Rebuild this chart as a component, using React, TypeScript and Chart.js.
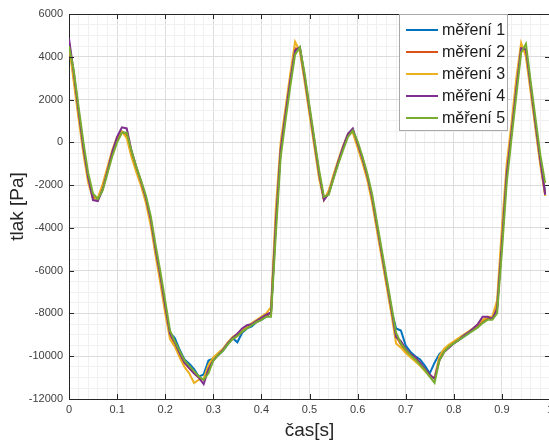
import { useEffect, useRef } from "react";
import { Chart, registerables } from "chart.js";

Chart.register(...registerables);

// Sample times [s]
const time = [
  0.0, 0.01, 0.02, 0.03, 0.04, 0.05, 0.06, 0.07, 0.08, 0.09,
  0.1, 0.11, 0.12, 0.13, 0.14, 0.15, 0.16, 0.17, 0.18, 0.19,
  0.2, 0.21, 0.22, 0.23, 0.24, 0.25, 0.26, 0.27, 0.28, 0.29,
  0.3, 0.31, 0.32, 0.33, 0.34, 0.35, 0.36, 0.37, 0.38, 0.39,
  0.4, 0.41, 0.42, 0.43, 0.44, 0.45, 0.46, 0.47, 0.48, 0.49,
  0.5, 0.51, 0.52, 0.53, 0.54, 0.55, 0.56, 0.57, 0.58, 0.59,
  0.6, 0.61, 0.62, 0.63, 0.64, 0.65, 0.66, 0.67, 0.68, 0.69,
  0.7, 0.71, 0.72, 0.73, 0.74, 0.75, 0.76, 0.77, 0.78, 0.79,
  0.8, 0.81, 0.82, 0.83, 0.84, 0.85, 0.86, 0.87, 0.88, 0.89,
  0.9, 0.91, 0.92, 0.93, 0.94, 0.95, 0.96, 0.97, 0.98, 0.99,
];

// Pressure [Pa], one array per measurement
const mereni1 = [
  4650, 3000, 1300, -350, -1700, -2600, -2650, -2100, -1300, -500,
  150, 500, 400, -550, -1250, -1900, -2650, -3650, -5050, -6300,
  -7700, -8900, -9150, -9700, -10150, -10350, -10600, -10950, -10850, -10200,
  -10100, -9950, -9750, -9450, -9150, -9350, -8900, -8700, -8600, -8400,
  -8300, -8150, -7950, -3800, -400, 1300, 2900, 4300, 4400, 3000,
  1500, 0, -1500, -2650, -2350, -1600, -900, -250, 350, 550,
  -100, -800, -1600, -2600, -3900, -5200, -6500, -7800, -8700, -8800,
  -9500, -9800, -10000, -10150, -10450, -10800, -10300, -9900, -9700, -9500,
  -9400, -9250, -9100, -8950, -8750, -8600, -8400, -8250, -8200, -7700,
  -4600, -1400, 500, 2600, 4400, 4300, 2600, 800, -900, -2350,
];

const mereni2 = [
  4700, 3100, 1400, -250, -1650, -2550, -2650, -2150, -1350, -550,
  100, 500, 350, -600, -1300, -1950, -2700, -3700, -5100, -6350,
  -7750, -9000, -9400, -9900, -10300, -10550, -10800, -11000, -11100, -10600,
  -10150, -9900, -9700, -9400, -9200, -9050, -8850, -8650, -8500, -8400,
  -8250, -8100, -7950, -3600, -300, 1300, 2900, 4400, 4350, 3000,
  1500, 0, -1500, -2650, -2350, -1600, -900, -250, 350, 550,
  -150, -800, -1600, -2650, -3950, -5250, -6550, -7850, -9050, -9450,
  -9750, -10000, -10150, -10350, -10600, -10900, -11050, -10150, -9750, -9550,
  -9350, -9200, -9050, -8900, -8750, -8600, -8350, -8200, -8250, -7700,
  -4500, -1400, 500, 2700, 4500, 4200, 2500, 750, -950, -2450,
];

const mereni3 = [
  4550, 2800, 1100, -550, -1900, -2650, -2600, -1950, -1150, -350,
  250, 500, 200, -700, -1400, -2050, -2850, -3900, -5300, -6600,
  -8000, -9200, -9550, -10050, -10500, -10800, -11250, -11100, -11050, -10400,
  -10050, -9850, -9650, -9350, -9100, -8950, -8800, -8600, -8450, -8300,
  -8150, -8000, -7700, -3100, 0, 1600, 3200, 4700, 4250, 2800,
  1300, -200, -1700, -2700, -2250, -1500, -800, -150, 400, 450,
  -250, -950, -1750, -2800, -4100, -5400, -6700, -8000, -9400, -9600,
  -9850, -10050, -10250, -10450, -10700, -10950, -11000, -10000, -9650, -9450,
  -9300, -9150, -9000, -8850, -8700, -8500, -8300, -8150, -8150, -7400,
  -4000, -1000, 900, 3000, 4650, 4000, 2300, 600, -1100, -2500,
];

const mereni4 = [
  4850, 3250, 1450, -250, -1650, -2700, -2750, -2200, -1350, -450,
  250, 700, 650, -400, -1150, -1850, -2600, -3600, -5000, -6250,
  -7650, -8950, -9350, -9850, -10300, -10550, -10800, -11000, -11300, -10600,
  -10200, -9950, -9700, -9400, -9150, -8950, -8700, -8550, -8500, -8350,
  -8200, -8050, -7950, -3800, -350, 1300, 2900, 4300, 4450, 3050,
  1550, 50, -1450, -2700, -2400, -1650, -900, -200, 400, 650,
  -50, -750, -1550, -2550, -3850, -5150, -6450, -7750, -9100, -9300,
  -9650, -9900, -10050, -10300, -10600, -10850, -11050, -10200, -9800, -9600,
  -9400, -9250, -9050, -8900, -8700, -8500, -8150, -8150, -8250, -7800,
  -4700, -1500, 450, 2500, 4400, 4350, 2600, 850, -850, -2450,
];

const mereni5 = [
  4500, 3350, 1650, 0, -1450, -2400, -2650, -2250, -1450, -650,
  0, 450, 450, -400, -1150, -1800, -2500, -3450, -4800, -6050,
  -7400, -8800, -9300, -9750, -10200, -10450, -10700, -10950, -11100, -10800,
  -10200, -9950, -9750, -9450, -9200, -9050, -8850, -8700, -8550, -8400,
  -8300, -8150, -8150, -4300, -700, 1000, 2600, 4100, 4450, 3200,
  1700, 200, -1300, -2550, -2450, -1700, -1000, -350, 250, 550,
  50, -650, -1450, -2400, -3700, -5000, -6300, -7600, -8900, -9400,
  -9700, -9950, -10150, -10400, -10650, -10950, -11250, -10200, -9800, -9550,
  -9400, -9250, -9100, -8950, -8800, -8650, -8450, -8300, -8300, -8000,
  -5100, -1900, 200, 2200, 4200, 4600, 2800, 1100, -600, -1900,
];

const seriesLabels = ["měření 1", "měření 2", "měření 3", "měření 4", "měření 5"];
const seriesValues = [mereni1, mereni2, mereni3, mereni4, mereni5];
const seriesColors = ["#0072BD", "#D95319", "#EDB120", "#7E2F8E", "#77AC30"];

// Labelled axis ticks
const xMajorTicks = [0, 0.1, 0.2, 0.3, 0.4, 0.5, 0.6, 0.7, 0.8, 0.9, 1];
const yMajorTicks = [-12000, -10000, -8000, -6000, -4000, -2000, 0, 2000, 4000, 6000];

const FONT = "'Liberation Sans', Arial, Helvetica, sans-serif";

const isMajorX = (v: number) => xMajorTicks.some((m) => Math.abs(m - v) < 1e-6);
const isMajorY = (v: number) => yMajorTicks.some((m) => Math.abs(m - v) < 1e-6);

// Box outline of the axes and the inward tick marks
const axesFrame = {
  id: "axesFrame",
  afterDatasetsDraw(chart: any) {
    const { ctx, chartArea: a, scales } = chart;
    ctx.save();
    ctx.strokeStyle = "#262626";
    ctx.lineWidth = 1;
    ctx.beginPath();
    ctx.moveTo(a.left, Math.round(a.top) + 0.5);
    ctx.lineTo(a.right, Math.round(a.top) + 0.5);
    ctx.moveTo(Math.round(a.right) - 0.5, a.top);
    ctx.lineTo(Math.round(a.right) - 0.5, a.bottom);
    for (const v of xMajorTicks) {
      const px = Math.round(scales.x.getPixelForValue(v)) + 0.5;
      ctx.moveTo(px, a.bottom);
      ctx.lineTo(px, a.bottom - 5);
      ctx.moveTo(px, a.top);
      ctx.lineTo(px, a.top + 5);
    }
    for (const v of yMajorTicks) {
      const py = Math.round(scales.y.getPixelForValue(v)) + 0.5;
      ctx.moveTo(a.left, py);
      ctx.lineTo(a.left + 5, py);
      ctx.moveTo(a.right, py);
      ctx.lineTo(a.right - 5, py);
    }
    ctx.stroke();
    ctx.restore();
  },
};

// Boxed legend in the upper right corner of the axes
const boxLegend = {
  id: "boxLegend",
  afterDraw(chart: any) {
    const { ctx, chartArea: a } = chart;
    const left = Math.round(a.left + 330);
    const top = Math.round(a.top);
    const w = 109;
    const h = 117;
    ctx.save();
    ctx.fillStyle = "#ffffff";
    ctx.fillRect(left, top, w, h);
    ctx.strokeStyle = "#a8a8a8";
    ctx.lineWidth = 1;
    ctx.strokeRect(left + 0.5, top + 0.5, w - 1, h - 1);
    ctx.font = `16px ${FONT}`;
    ctx.textBaseline = "middle";
    ctx.textAlign = "left";
    chart.data.datasets.forEach((ds: any, i: number) => {
      const y = top + 16 + i * 22;
      ctx.strokeStyle = ds.borderColor;
      ctx.lineWidth = 2;
      ctx.beginPath();
      ctx.moveTo(left + 7, y);
      ctx.lineTo(left + 39, y);
      ctx.stroke();
      ctx.fillStyle = "#1a1a1a";
      ctx.fillText(ds.label, left + 43, y + 1);
    });
    ctx.restore();
  },
};

export default function App() {
  const canvasRef = useRef<HTMLCanvasElement | null>(null);

  useEffect(() => {
    const canvas = canvasRef.current;
    if (!canvas) return;

    const datasets = seriesLabels.map((label, i) => ({
      label,
      data: time.map((t, j) => ({ x: t, y: seriesValues[i][j] })),
      borderColor: seriesColors[i],
      backgroundColor: seriesColors[i],
      borderWidth: 2,
      pointRadius: 0,
      tension: 0,
      fill: false,
      // later measurements are painted over earlier ones
      order: seriesLabels.length - i,
    }));

    const chart = new Chart(canvas, {
      type: "line",
      data: { datasets },
      plugins: [axesFrame, boxLegend],
      options: {
        responsive: false,
        animation: false,
        devicePixelRatio: 1,
        layout: { padding: { left: 0, top: 14, right: 50, bottom: 0 } },
        plugins: {
          legend: { display: false },
          tooltip: { enabled: false },
        },
        scales: {
          x: {
            type: "linear",
            position: "bottom",
            min: 0,
            max: 1,
            afterFit(scale: any) {
              scale.height = 41;
              scale.paddingLeft = 0;
              scale.paddingRight = 0;
            },
            ticks: {
              stepSize: 0.02,
              autoSkip: false,
              maxRotation: 0,
              padding: 4,
              color: "#404040",
              font: { family: FONT, size: 11 },
              callback: (v: any) => (isMajorX(Number(v)) ? String(Math.round(Number(v) * 10) / 10) : ""),
            },
            grid: {
              drawTicks: false,
              color: (ctx: any) => (isMajorX(ctx.tick.value) ? "#dcdcdc" : "#f0f0f0"),
              lineWidth: 1,
            },
            border: { display: true, color: "#262626", width: 1 },
            title: {
              display: true,
              text: "čas[s]",
              color: "#262626",
              font: { family: FONT, size: 19, lineHeight: 1 },
              padding: { top: 0, bottom: 0 },
            },
          },
          y: {
            type: "linear",
            min: -12000,
            max: 6000,
            afterFit(scale: any) {
              scale.width = 69;
              scale.paddingTop = 0;
              scale.paddingBottom = 0;
            },
            ticks: {
              stepSize: 500,
              autoSkip: false,
              padding: 6,
              color: "#404040",
              font: { family: FONT, size: 11 },
              callback: (v: any) => (isMajorY(Number(v)) ? String(Math.round(Number(v))) : ""),
            },
            grid: {
              drawTicks: false,
              color: (ctx: any) => (isMajorY(ctx.tick.value) ? "#dcdcdc" : "#f0f0f0"),
              lineWidth: 1,
            },
            border: { display: true, color: "#262626", width: 1 },
            title: {
              display: true,
              text: "tlak [Pa]",
              color: "#262626",
              font: { family: FONT, size: 19, lineHeight: 1 },
              padding: { top: 8, bottom: 0 },
            },
          },
        },
      },
    });

    return () => chart.destroy();
  }, []);

  return (
    <div
      style={{
        position: "absolute",
        left: 0,
        top: 0,
        width: 549,
        height: 440,
        overflow: "hidden",
        background: "#ffffff",
      }}
    >
      <canvas ref={canvasRef} width={600} height={440} style={{ display: "block" }} />
    </div>
  );
}
